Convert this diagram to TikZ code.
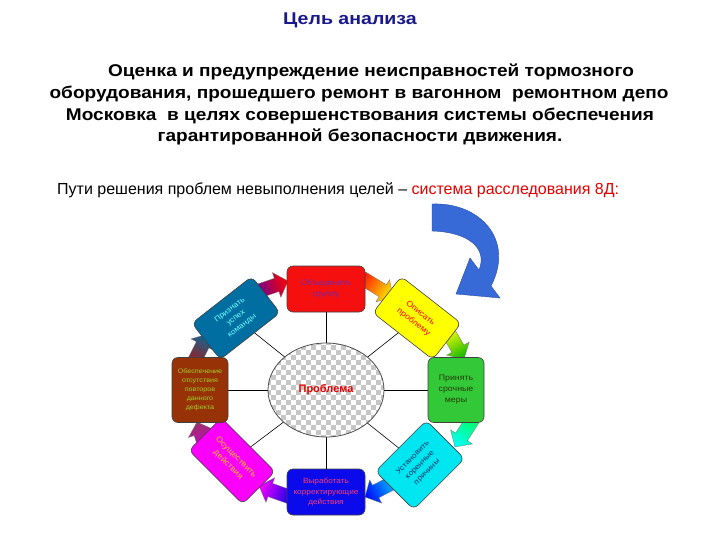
\documentclass[tikz,border=0pt]{standalone}
\usepackage{fontspec}
\setmainfont{Liberation Sans}
\newfontfamily\parafont[FakeStretch=1.12]{Liberation Sans}
\newfontfamily\titlefont[FakeStretch=1.15]{Liberation Sans}
\newfontfamily\boxfont[FakeStretch=1.1]{Liberation Sans}
\usetikzlibrary{shapes.geometric}
\definecolor{titleblue}{RGB}{25,25,140}
\definecolor{curvblue}{RGB}{55,105,215}
\definecolor{bred}{RGB}{245,15,15}
\definecolor{byellow}{RGB}{255,255,0}
\definecolor{bgreen}{RGB}{50,200,55}
\definecolor{bcyan}{RGB}{0,230,240}
\definecolor{bblue}{RGB}{10,10,235}
\definecolor{bmag}{RGB}{250,0,250}
\definecolor{bbrown}{RGB}{150,50,5}
\definecolor{bteal}{RGB}{0,110,160}
\definecolor{tpurple}{RGB}{120,40,170}
\definecolor{tpink}{RGB}{255,60,110}
\definecolor{torange}{RGB}{255,200,20}
\definecolor{tlime}{RGB}{160,210,40}
\definecolor{tcyan}{RGB}{110,255,255}
\definecolor{tnavy}{RGB}{0,50,110}
\definecolor{tolive}{RGB}{40,60,10}
\newcommand\blockarr[6]{%
  \pgfmathsetmacro\bdx{#3-#1}\pgfmathsetmacro\bdy{#4-#2}%
  \pgfmathsetmacro\blen{veclen(\bdx,\bdy)}%
  \pgfmathsetmacro\bang{atan2(-\bdy,\bdx)}%
  \pgfmathsetmacro\bhb{\blen-12}%
  \begin{scope}[transform canvas={shift={(#1,#2)},rotate=\bang}]
    \shade[left color=#5,right color=#6,draw=black!55,line width=0.3pt]
      (0,-7) -- (\bhb,-7) -- (\bhb,-13) -- (\blen,0) -- (\bhb,13) -- (\bhb,7) -- (0,7) -- cycle;
  \end{scope}}
\tikzset{
  para/.style={font=\parafont\bfseries\fontsize{17}{20}\selectfont,inner sep=0pt,anchor=center},
  box/.style={draw=black!75,line width=0.6pt,rounded corners=6pt,align=center,
     font=\boxfont\fontsize{8}{11}\selectfont,inner sep=2pt},
  hbox/.style={box,minimum width=78pt,minimum height=46pt},
  vbox/.style={box,minimum width=56pt,minimum height=65pt},
  dbox/.style={box,minimum width=76pt,minimum height=46pt},
  spoke/.style={draw=black,line width=0.6pt}
}
\begin{document}
\begin{tikzpicture}[x=1pt,y=-1pt]
\useasboundingbox[fill=white] (0,0) rectangle (720,540);
% texts
\node[font=\titlefont\bfseries\fontsize{17}{20}\selectfont,text=titleblue] (title) at (350,20) {Цель анализа};
\node[para] (l1) at (371,72) {Оценка и предупреждение неисправностей тормозного};
\node[para] (l2) at (359,94) {оборудования, прошедшего ремонт в вагонном\ \ ремонтном депо};
\node[para] (l3) at (360,116) {Московка\ \ в целях совершенствования системы обеспечения};
\node[para] (l4) at (360,137) {гарантированной безопасности движения.};
\node[font=\fontsize{16}{19}\selectfont,anchor=west,inner sep=0pt] (ways) at (57,190)
  {Пути решения проблем невыполнения целей – \textcolor{red!90!black}{система расследования 8Д:}};
% curved blue arrow
\filldraw[fill=curvblue,draw=curvblue!75!black,line width=0.4pt]
  (432,204) .. controls (480,202) and (515,240) .. (491,286)
  -- (500,298) -- (456,294) -- (470,258) -- (479,270)
  .. controls (488,248) and (468,232) .. (432,231) -- cycle;
% coordinates
\coordinate (c) at (326,390);
\coordinate (pR) at (326,289);
\coordinate (pY) at (417,318);
\coordinate (pG) at (456,390);
\coordinate (pC) at (420,465);
\coordinate (pB) at (326,492);
\coordinate (pM) at (232,461);
\coordinate (pBr) at (200,390);
\coordinate (pT) at (236,318);
% spokes
\foreach \p in {pR,pY,pG,pC,pB,pM,pBr,pT} \draw[spoke] (c) -- (\p);
% checkered ellipse
\begin{scope}
  \clip (c) ellipse [x radius=58, y radius=47];
  \fill[white] (260,336) rectangle (395,445);
  \foreach \i in {0,...,26}{
    \foreach \j in {0,...,21}{
      \pgfmathtruncatemacro\chk{mod(\i+\j,2)}
      \ifnum\chk=0 \fill[gray!45] (266+5*\i,340+5*\j) rectangle ++(5,5);\fi
    }}
\end{scope}
\node[ellipse,draw=black!70,line width=0.8pt,minimum width=116pt,minimum height=94pt,
  font=\bfseries\fontsize{11}{13}\selectfont,text=red!90!black] (prob) at (c) {Проблема};
% block arrows (clockwise)
\blockarr{253}{293}{288}{281}{violet!70!blue}{red}
\blockarr{362}{278}{393}{297}{red!80!orange}{yellow}
\blockarr{447}{330}{464}{359}{yellow}{green!70!black}
\blockarr{473}{419}{455}{447}{green!60!cyan}{cyan}
\blockarr{396}{481}{365}{497}{cyan!80!blue}{blue}
\blockarr{290}{497}{259}{486}{blue!80!violet}{magenta}
\blockarr{206}{449}{197}{422}{magenta!80!black}{violet!60!brown}
\blockarr{195}{360}{208}{334}{bbrown!70!violet}{bteal}
% boxes
\node[hbox,fill=bred,text=tpurple] (red) at (pR) {Объединить\\группу};
\node[dbox,fill=byellow,text=red,rotate=-38] (yel) at (pY) {Описать\\проблему};
\node[vbox,fill=bgreen,text=tolive] (grn) at (pG) {Принять\\срочные\\меры};
\node[dbox,fill=bcyan,text=tnavy,rotate=45,minimum width=72pt,minimum height=54pt,font=\boxfont\fontsize{7.5}{10}\selectfont] (cya) at (pC) {Установить\\коренные\\причины};
\node[hbox,fill=bblue,text=tpink,font=\boxfont\fontsize{7.5}{10.5}\selectfont] (blu) at (pB) {Выработать\\корректирующие\\действия};
\node[dbox,fill=bmag,text=torange,rotate=-45] (mag) at (pM) {Осуществить\\действия};
\node[vbox,fill=bbrown,text=tlime,font=\boxfont\fontsize{6.5}{9}\selectfont] (brn) at (pBr) {Обеспечение\\отсутствия\\повторов\\данного\\дефекта};
\node[dbox,fill=bteal,text=tcyan,rotate=38,font=\boxfont\fontsize{7.5}{10}\selectfont] (tea) at (pT) {Признать\\успех\\команды};
\end{tikzpicture}
\end{document}
